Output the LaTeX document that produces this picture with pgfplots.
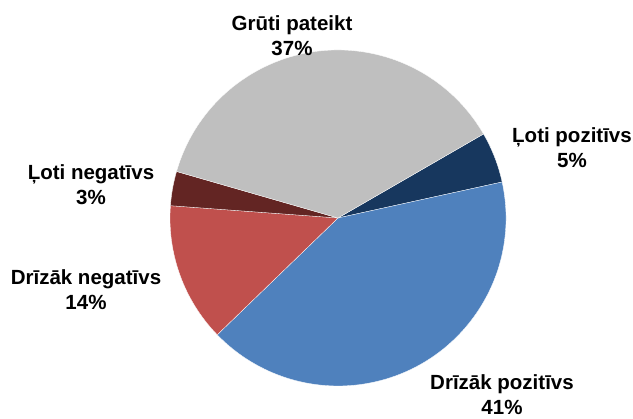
\documentclass[border=0pt]{standalone}
\usepackage{pgfplots}
\usepackage{pgfplotstable}
\pgfplotsset{compat=1.18}
\usepackage{fontspec}
\setmainfont{Liberation Sans}
\definecolor{c1}{HTML}{17375E}
\definecolor{c2}{HTML}{4F81BD}
\definecolor{c3}{HTML}{C0504D}
\definecolor{c4}{HTML}{632523}
\definecolor{c5}{HTML}{BFBFBF}
\pgfplotstableread{
value color
4.9 c1
41.2 c2
13.4 c3
3.3 c4
37.2 c5
}\piedata
\begin{document}
\begin{tikzpicture}
\begin{axis}[
  width=633pt, height=419pt, scale only axis,
  xmin=0, xmax=633, ymin=0, ymax=419,
  enlargelimits=false, hide axis, clip=false,
]
\pgfplotstablegetrowsof{\piedata}
\pgfmathtruncatemacro\N{\pgfplotsretval-1}
\def\startang{30}
\pgfplotsforeachungrouped \i in {0,...,\N}{%
  \pgfplotstablegetelem{\i}{value}\of\piedata \let\v\pgfplotsretval
  \pgfplotstablegetelem{\i}{color}\of\piedata \let\c\pgfplotsretval
  \pgfmathsetmacro\endang{\startang-3.6*\v}%
  \edef\tmp{\noexpand\fill[\c, draw=white, line width=0.3pt] (axis cs:338,201) -- ++(\startang:168pt) arc[start angle=\startang, end angle=\endang, radius=168pt] -- cycle;}%
  \tmp
  \global\let\startang\endang
}
\begin{scope}[every node/.style={font=\bfseries\fontsize{20.5}{25}\selectfont, align=center, inner sep=0pt}]
\node at (axis cs:292,383) {Grūti pateikt\\37\%};
\node at (axis cs:572,271.5) {Ļoti pozitīvs\\5\%};
\node at (axis cs:91,234.5) {Ļoti negatīvs\\3\%};
\node at (axis cs:86,129.5) {Drīzāk negatīvs\\14\%};
\node at (axis cs:502,24) {Drīzāk pozitīvs\\41\%};
\end{scope}
\end{axis}
\pgfresetboundingbox
\useasboundingbox (current axis.south west) rectangle (current axis.north east);
\end{tikzpicture}
\end{document}
